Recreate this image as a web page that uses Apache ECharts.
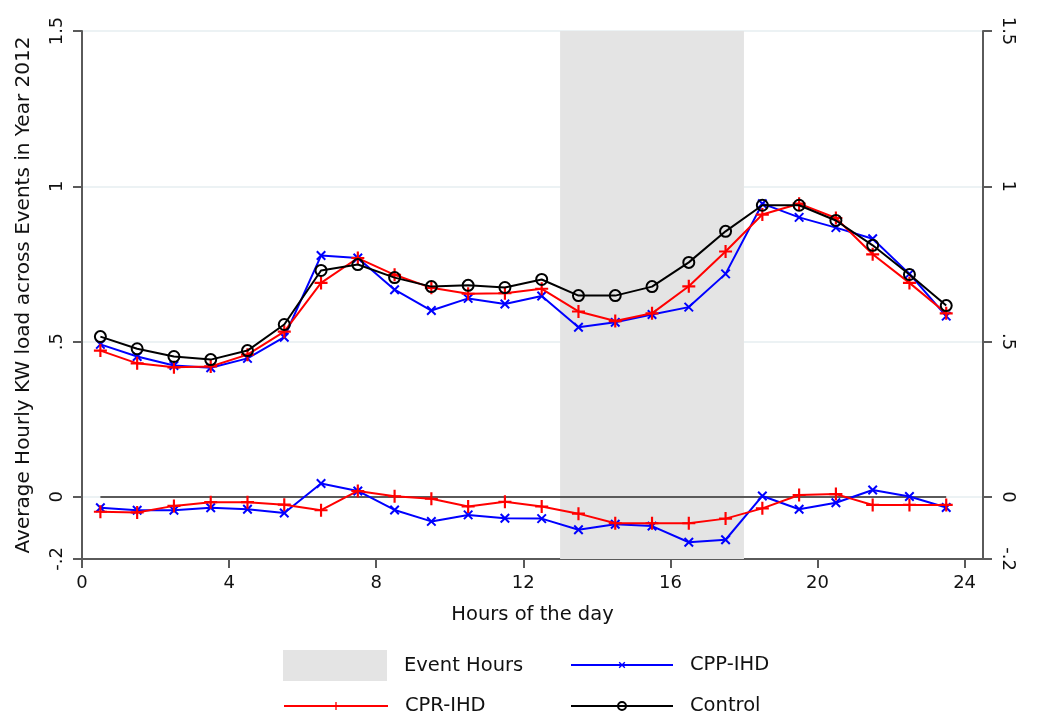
<!DOCTYPE html>
<html>
<head>
<meta charset="utf-8">
<script src="https://cdn.jsdelivr.net/npm/echarts@6/dist/echarts.min.js"></script>
<style>
  html, body { margin: 0; padding: 0; background: #fff; }
  #chart { width: 1062px; height: 717px; }
</style>
</head>
<body>
<div id="chart"></div>
<script>
// hour mid-points
var hours = [0.5, 1.5, 2.5, 3.5, 4.5, 5.5, 6.5, 7.5, 8.5, 9.5, 10.5, 11.5,
  12.5, 13.5, 14.5, 15.5, 16.5, 17.5, 18.5, 19.5, 20.5, 21.5, 22.5, 23.5];

var control = [0.516, 0.477, 0.452, 0.442, 0.471, 0.555, 0.729, 0.748, 0.706, 0.677, 0.681, 0.674,
  0.700, 0.648, 0.648, 0.677, 0.755, 0.855, 0.939, 0.939, 0.890, 0.810, 0.716, 0.616];
var cprIhd = [0.471, 0.430, 0.417, 0.420, 0.458, 0.532, 0.689, 0.769, 0.715, 0.673, 0.654, 0.656,
  0.670, 0.597, 0.566, 0.591, 0.678, 0.790, 0.909, 0.944, 0.898, 0.781, 0.689, 0.591];
var cppIhd = [0.491, 0.452, 0.423, 0.416, 0.446, 0.514, 0.777, 0.769, 0.667, 0.600, 0.639, 0.621,
  0.647, 0.546, 0.562, 0.587, 0.611, 0.718, 0.944, 0.900, 0.867, 0.831, 0.718, 0.582];

// treatment minus control
var cprDiff = [-0.048, -0.050, -0.029, -0.017, -0.017, -0.025, -0.043, 0.019, 0.002, -0.006, -0.031, -0.016,
  -0.031, -0.054, -0.085, -0.085, -0.085, -0.070, -0.037, 0.006, 0.009, -0.026, -0.026, -0.026];
var cppDiff = [-0.035, -0.043, -0.043, -0.035, -0.040, -0.052, 0.043, 0.019, -0.042, -0.079, -0.058, -0.069,
  -0.070, -0.106, -0.088, -0.094, -0.146, -0.138, 0.003, -0.040, -0.019, 0.022, 0.001, -0.034];

var eventStart = 13;
var eventEnd = 18;

var xTicks = [0, 4, 8, 12, 16, 20, 24];
var yTicks = [-0.2, 0, 0.5, 1, 1.5];

function pairs(vals) {
  return hours.map(function(h, i) { return [h, vals[i]]; });
}
function yFmt(v) {
  if (v === 0) return '0';
  var s = String(Math.round(v * 10) / 10);
  return s.replace('0.', '.');
}

var font = 'DejaVu Sans';
var axisGrey = '#5a5a5a';
var plusPath = 'path://M0,5H12V7H0ZM5,0H7V12H5Z';

function yAxisDef(pos, rot) {
  return {
    type: 'value',
    position: pos,
    min: -0.2,
    max: 1.5,
    axisLine: { show: true, lineStyle: { color: axisGrey, width: 2 } },
    axisTick: { show: true, length: 9, customValues: yTicks, lineStyle: { color: axisGrey, width: 2 } },
    axisLabel: {
      customValues: yTicks,
      rotate: rot,
      margin: 16,
      color: '#111',
      fontFamily: font,
      fontSize: 18,
      formatter: yFmt
    },
    splitLine: pos === 'left' ? { show: true, lineStyle: { color: '#e6eef1', width: 1.5 } } : { show: false }
  };
}

var chart = echarts.init(document.getElementById('chart'));
chart.setOption({
  animation: false,
  backgroundColor: '#fff',
  grid: { left: 82, right: 79, top: 31, bottom: 158 },
  xAxis: {
    type: 'value',
    min: 0,
    max: 24.5,
    name: 'Hours of the day',
    nameLocation: 'middle',
    nameGap: 46,
    nameTextStyle: { fontFamily: font, fontSize: 19.5, color: '#111' },
    axisLine: { show: true, onZero: false, lineStyle: { color: axisGrey, width: 2 } },
    axisTick: { show: true, length: 9, customValues: xTicks, lineStyle: { color: axisGrey, width: 2 } },
    axisLabel: { customValues: xTicks, margin: 15, color: '#111', fontFamily: font, fontSize: 18 },
    splitLine: { show: false }
  },
  yAxis: [
    Object.assign(yAxisDef('left', 90), {
      name: 'Average Hourly KW load across Events in Year 2012',
      nameLocation: 'middle',
      nameGap: 48,
      nameTextStyle: { fontFamily: font, fontSize: 20, color: '#111' }
    }),
    yAxisDef('right', -90)
  ],
  legend: [
    {
      data: [{ name: 'Event Hours', icon: 'rect' }],
      left: 283, top: 650, padding: 0,
      itemWidth: 104, itemHeight: 31,
      textStyle: { fontFamily: font, fontSize: 19.5, color: '#111', padding: [0, 0, 0, 12] }
    },
    {
      data: ['CPR-IHD'],
      left: 283, top: 695, padding: 0,
      itemWidth: 104, itemHeight: 10,
      textStyle: { fontFamily: font, fontSize: 19.5, color: '#111', lineHeight: 22, padding: [0, 0, 0, 12] }
    },
    {
      data: ['CPP-IHD', 'Control'],
      orient: 'vertical',
      left: 570, top: 654, padding: 0,
      itemWidth: 102, itemHeight: 10, itemGap: 19,
      textStyle: { fontFamily: font, fontSize: 19.5, color: '#111', lineHeight: 22, padding: [0, 0, 0, 12] }
    }
  ],
  series: [
    {
      name: 'Event Hours',
      type: 'line',
      data: [],
      z: 1,
      itemStyle: { color: '#e4e4e4' },
      lineStyle: { color: '#e4e4e4' },
      markArea: {
        silent: true,
        itemStyle: { color: '#e4e4e4' },
        data: [[{ xAxis: eventStart }, { xAxis: eventEnd }]]
      }
    },
    {
      name: 'zero',
      type: 'line',
      data: pairs(hours.map(function() { return 0; })),
      symbol: 'none',
      z: 2,
      lineStyle: { color: axisGrey, width: 2 },
      itemStyle: { color: axisGrey }
    },
    {
      name: 'CPP-IHD',
      type: 'line',
      data: pairs(cppIhd),
      symbol: plusPath,
      symbolRotate: 45,
      symbolSize: 12,
      z: 3,
      lineStyle: { color: '#0000ff', width: 2 },
      itemStyle: { color: '#0000ff' }
    },
    {
      name: 'CPP-IHD',
      type: 'line',
      data: pairs(cppDiff),
      symbol: plusPath,
      symbolRotate: 45,
      symbolSize: 12,
      z: 3,
      lineStyle: { color: '#0000ff', width: 2 },
      itemStyle: { color: '#0000ff' }
    },
    {
      name: 'CPR-IHD',
      type: 'line',
      data: pairs(cprIhd),
      symbol: plusPath,
      symbolSize: 13,
      z: 4,
      lineStyle: { color: '#ff0000', width: 2 },
      itemStyle: { color: '#ff0000' }
    },
    {
      name: 'CPR-IHD',
      type: 'line',
      data: pairs(cprDiff),
      symbol: plusPath,
      symbolSize: 13,
      z: 4,
      lineStyle: { color: '#ff0000', width: 2 },
      itemStyle: { color: '#ff0000' }
    },
    {
      name: 'Control',
      type: 'line',
      data: pairs(control),
      symbol: 'circle',
      symbolSize: 11,
      z: 5,
      lineStyle: { color: '#000', width: 2 },
      itemStyle: { color: 'rgba(0,0,0,0)', borderColor: '#000', borderWidth: 2 }
    }
  ]
});
</script>
</body>
</html>
